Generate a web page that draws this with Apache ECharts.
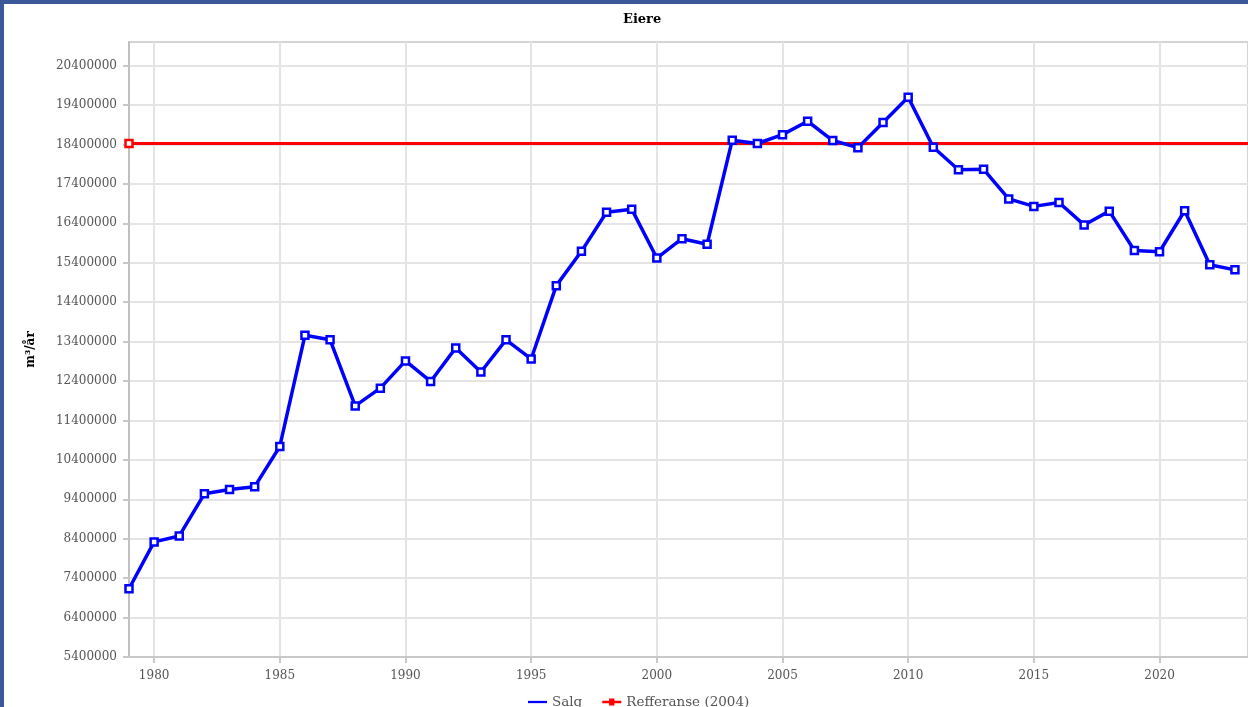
<!DOCTYPE html>
<html>
<head>
<meta charset="utf-8">
<script src="https://cdn.jsdelivr.net/npm/echarts@6/dist/echarts.min.js"></script>
<style>
html,body{margin:0;padding:0;background:#fff;}
body{width:1248px;height:707px;overflow:hidden;position:relative;}
#frame{position:absolute;left:0;top:0;width:1248px;height:707px;border-top:4px solid #3b5998;border-left:4px solid #3b5998;box-sizing:border-box;}
#chart{position:absolute;left:4px;top:4px;width:1244px;height:703px;}
</style>
</head>
<body>
<div id="frame"></div>
<div id="chart"></div>
<script>
const years = [1979,1980,1981,1982,1983,1984,1985,1986,1987,1988,1989,1990,1991,1992,1993,1994,1995,1996,1997,1998,1999,2000,2001,2002,2003,2004,2005,2006,2007,2008,2009,2010,2011,2012,2013,2014,2015,2016,2017,2018,2019,2020,2021,2022,2023];
const salg = [7130000,8320000,8470000,9540000,9650000,9720000,10740000,13560000,13445000,11770000,12220000,12910000,12390000,13240000,12630000,13445000,12960000,14820000,15690000,16680000,16760000,15520000,16010000,15870000,18510000,18425000,18650000,18990000,18500000,18320000,18960000,19600000,18330000,17760000,17770000,17020000,16830000,16930000,16360000,16710000,15710000,15680000,16720000,15350000,15220000];
const referanseValue = 18425000;
const referanseYears = [1979, 2030];
const yTicks = [5400000,6400000,7400000,8400000,9400000,10400000,11400000,12400000,13400000,14400000,15400000,16400000,17400000,18400000,19400000,20400000];
const xTicks = [1980,1985,1990,1995,2000,2005,2010,2015,2020];

const salgData = years.map((y,i)=>[y, salg[i]]);
const refData = referanseYears.map(y=>[y, referanseValue]);

const chart = echarts.init(document.getElementById('chart'));
const serif = 'DejaVu Serif';
chart.setOption({
  animation:false,
  backgroundColor:'#fff',
  title:{
    text:'Eiere', left:614, top:4,
    textStyle:{fontFamily:serif, fontSize:13, fontWeight:'bold', color:'#000'}
  },
  legend:{
    left:519, top:686, itemWidth:19, itemHeight:8, itemGap:20,
    textStyle:{fontFamily:serif, fontSize:13.5, color:'#555'},
    data:[
      {name:'Salg', icon:'path://M0,3 L25,3 L25,6 L0,6 Z', itemStyle:{color:'#0000ff', borderWidth:0}},
      {name:'Refferanse (2004)', icon:'path://M0,3 L9,3 L9,0 L16,0 L16,3 L25,3 L25,6 L16,6 L16,9 L9,9 L9,6 L0,6 Z', itemStyle:{color:'#ff0000', borderWidth:0}}
    ]
  },
  grid:{left:125, right:-3, top:38, bottom:50, show:true, borderColor:'#d4d4d4', borderWidth:2},
  xAxis:{
    type:'value', min:1979, max:2023.52,
    axisLine:{show:true, lineStyle:{color:'#c8c8c8', width:2}},
    axisTick:{show:true, customValues:xTicks, length:6, lineStyle:{color:'#c8c8c8', width:2}},
    axisLabel:{customValues:xTicks, fontFamily:serif, fontSize:12, color:'#555', margin:13,
      formatter:v=>String(v)},
    splitLine:{show:true, lineStyle:{color:'#e4e4e4', width:2}}
  },
  yAxis:{
    type:'value', min:5400000, max:21000000,
    name:'m³/år', nameLocation:'middle', nameGap:92, nameRotate:90,
    nameTextStyle:{fontFamily:serif, fontSize:12, fontWeight:'bold', color:'#000'},
    axisLine:{show:true, lineStyle:{color:'#c0c0c0', width:2}},
    axisTick:{show:true, customValues:yTicks, length:6, lineStyle:{color:'#c8c8c8', width:2}},
    axisLabel:{customValues:yTicks, fontFamily:serif, fontSize:12, color:'#555', margin:12,
      formatter:v=>String(v)},
    splitLine:{show:true, lineStyle:{color:'#e4e4e4', width:2}}
  },
  series:[
    {
      name:'Salg', type:'line', data:salgData,
      symbol:'rect', symbolSize:7,
      lineStyle:{color:'#0000ff', width:3.5},
      itemStyle:{color:'#ffffff', borderColor:'#0000ff', borderWidth:2.5},
      z:3
    },
    {
      name:'Refferanse (2004)', type:'line', data:refData,
      symbol:'rect', symbolSize:7,
      lineStyle:{color:'#ff0000', width:3},
      itemStyle:{color:'#ffffff', borderColor:'#ff0000', borderWidth:2.5},
      z:2
    }
  ]
});
</script>
</body>
</html>
